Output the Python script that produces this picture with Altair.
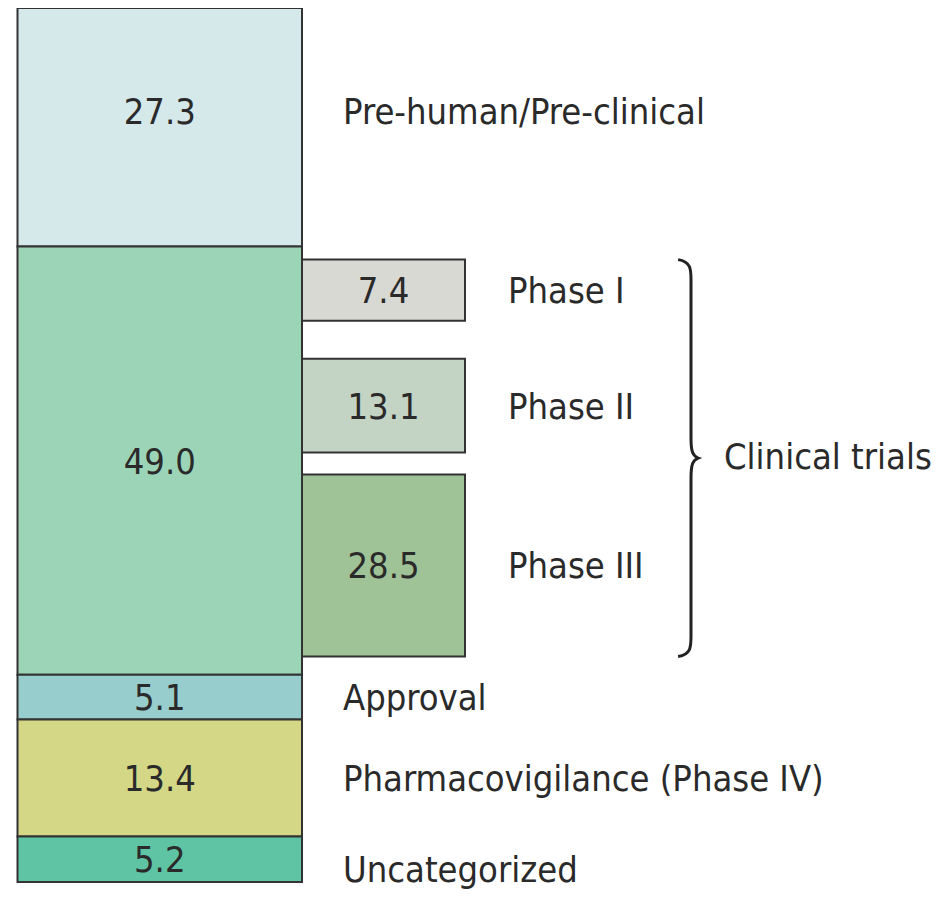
import altair as alt
import pandas as pd

# ---------------- data ----------------
stages = ["Pre-human/Pre-clinical", "Clinical trials", "Approval",
          "Pharmacovigilance (Phase IV)", "Uncategorized"]
stage_values = [27.3, 49.0, 5.1, 13.4, 5.2]

phases = ["Phase I", "Phase II", "Phase III"]
phase_values = [7.4, 13.1, 28.5]

group_label = "Clinical trials"

# ---------------- layout / style ----------------
stage_colors = ["#d5e9ea", "#9cd4b7", "#97cdcc", "#d4d785", "#5fc4a3"]
phase_colors = ["#d9d9d4", "#c3d3c4", "#9fc396"]
FONT = "DejaVu Sans Condensed, Liberation Sans Narrow, sans-serif"
FS = 36
TXT = "#2a2a2a"
EDGE = "#333333"
PX_PER_UNIT = 8.74           # vertical pixels per percentage point
W, H = 927, 887
MAIN_X0, MAIN_X1 = 9.5, 294
PH_X0, PH_X1 = 294, 457
NAME_X, PH_NAME_X, GROUP_X, BRACE_X = 335, 500, 716, 683
# phase boxes: minimum box height + proportional part, gaps inside clinical block
PH_MIN, PH_K = 2.13, 0.656
PH_GAPS = [1.49, 4.35, 2.52]
NUM_SHIFT = {"Pre-human/Pre-clinical": -1.9}
NAME_SHIFT = {"Pre-human/Pre-clinical": -1.9, "Uncategorized": 1.15}

# ---------------- tables ----------------
starts, acc = [], 0.0
for v in stage_values:
    starts.append(acc)
    acc += v
sdf = pd.DataFrame({"stage": stages, "value": stage_values, "start": starts})
sdf["end"] = sdf["start"] + sdf["value"]
sdf["mid"] = (sdf["start"] + sdf["end"]) / 2
sdf["num_y"] = sdf["mid"] + sdf["stage"].map(NUM_SHIFT).fillna(0)
sdf["name_y"] = sdf["mid"] + sdf["stage"].map(NAME_SHIFT).fillna(0)

clin_start = sdf.loc[sdf["stage"] == group_label, "start"].iloc[0]
p_start, p_end, pos = [], [], clin_start
for i, v in enumerate(phase_values):
    pos += PH_GAPS[i]
    p_start.append(pos)
    pos += PH_MIN + PH_K * v
    p_end.append(pos)
pdf = pd.DataFrame({"phase": phases, "value": phase_values,
                    "start": p_start, "end": p_end})
pdf["mid"] = (pdf["start"] + pdf["end"]) / 2

brace_top, brace_bot = p_start[0], p_end[-1]
brace_mid = (brace_top + brace_bot) / 2
brace_px = (brace_bot - brace_top) * PX_PER_UNIT
gdf = pd.DataFrame({"label": [group_label], "y": [brace_mid]})

BRACE_PATH = ("M -0.065,-1 C 0,-0.99 0,-0.95 0,-0.9 L 0,-0.1 "
              "C 0,-0.03 0.01,-0.01 0.036,0 C 0.01,0.01 0,0.03 0,0.1 "
              "L 0,0.9 C 0,0.95 0,0.99 -0.065,1")

yscale = alt.Scale(domain=[0, 100], range=[0, 100 * PX_PER_UNIT], nice=False, zero=False)

base_s = alt.Chart(sdf)
main_rect = base_s.mark_rect(stroke=EDGE, strokeWidth=2).encode(
    x=alt.value(MAIN_X0), x2=alt.value(MAIN_X1),
    y=alt.Y("start:Q", scale=yscale, axis=None), y2="end:Q",
    color=alt.Color("stage:N", scale=alt.Scale(domain=stages, range=stage_colors), legend=None),
)
main_num = base_s.mark_text(font=FONT, fontSize=FS, color=TXT, align="center",
                            baseline="middle", dy=2).encode(
    x=alt.value((MAIN_X0 + MAIN_X1) / 2),
    y=alt.Y("num_y:Q", scale=yscale, axis=None),
    text=alt.Text("value:Q", format=".1f"),
)
main_name = base_s.transform_filter(alt.datum.stage != group_label).mark_text(
    font=FONT, fontSize=FS, color=TXT, align="left", baseline="middle", dy=2).encode(
    x=alt.value(NAME_X),
    y=alt.Y("name_y:Q", scale=yscale, axis=None),
    text="stage:N",
)

base_p = alt.Chart(pdf)
ph_rect = base_p.mark_rect(stroke=EDGE, strokeWidth=2).encode(
    x=alt.value(PH_X0), x2=alt.value(PH_X1),
    y=alt.Y("start:Q", scale=yscale, axis=None), y2="end:Q",
    fill=alt.Fill("phase:N", scale=alt.Scale(domain=phases, range=phase_colors), legend=None),
)
ph_num = base_p.mark_text(font=FONT, fontSize=FS, color=TXT, align="center",
                          baseline="middle", dy=2).encode(
    x=alt.value((PH_X0 + PH_X1) / 2),
    y=alt.Y("mid:Q", scale=yscale, axis=None),
    text=alt.Text("value:Q", format=".1f"),
)
ph_name = base_p.mark_text(font=FONT, fontSize=FS, color=TXT, align="left",
                           baseline="middle", dy=2).encode(
    x=alt.value(PH_NAME_X),
    y=alt.Y("mid:Q", scale=yscale, axis=None),
    text="phase:N",
)

base_g = alt.Chart(gdf)
brace = base_g.mark_point(shape=BRACE_PATH, filled=False, stroke="#222222",
                          strokeWidth=3, opacity=1).encode(
    x=alt.value(BRACE_X),
    y=alt.Y("y:Q", scale=yscale, axis=None),
    size=alt.value(brace_px ** 2),
)
group_txt = base_g.mark_text(font=FONT, fontSize=FS, color=TXT, align="left",
                             baseline="middle", dy=0).encode(
    x=alt.value(GROUP_X),
    y=alt.Y("y:Q", scale=yscale, axis=None),
    text="label:N",
)

chart = alt.layer(main_rect, ph_rect, main_num, main_name, ph_num, ph_name,
                  brace, group_txt).properties(
    width=W, height=H,
    autosize=alt.AutoSizeParams(type="none"),
    padding={"left": 0, "top": 0, "right": 0, "bottom": 0},
).configure_view(stroke=None).resolve_scale(color="independent")

chart.save("out.html", embed_options={"renderer": "svg", "actions": False})
